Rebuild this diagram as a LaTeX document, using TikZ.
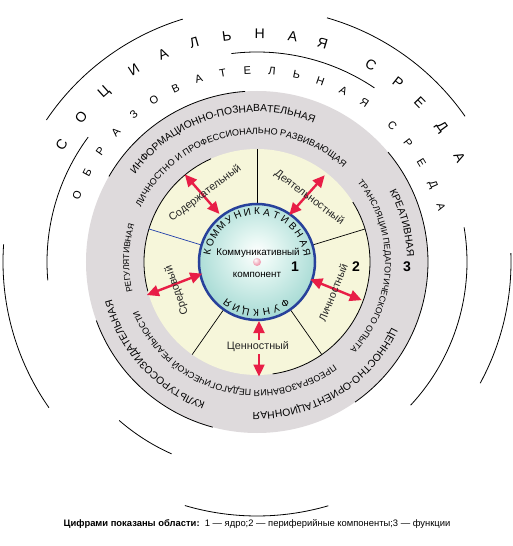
\documentclass[tikz,border=0pt]{standalone}
\usepackage{fontspec}
\setmainfont{Liberation Sans}
\usetikzlibrary{decorations.text,arrows.meta}
\definecolor{ringgray}{RGB}{222,218,220}
\definecolor{ringyellow}{RGB}{246,246,218}
\definecolor{sphteal}{RGB}{100,190,180}
\definecolor{sphlight}{RGB}{228,246,242}
\definecolor{sphedge}{RGB}{40,65,155}
\definecolor{arrred}{RGB}{232,30,70}
\definecolor{secblue}{RGB}{30,60,170}
\definecolor{pinkdot}{RGB}{232,110,140}
\pgfdeclareradialshading{sphereshade}{\pgfpoint{0bp}{4bp}}{color(0bp)=(white); color(8bp)=(sphlight); color(36bp)=(sphteal!75!white); color(50bp)=(sphteal); color(100bp)=(sphteal)}
\pgfdeclareradialshading{dotshade}{\pgfpoint{-10bp}{12bp}}{color(0bp)=(white); color(22bp)=(pinkdot!55!white); color(50bp)=(pinkdot); color(100bp)=(pinkdot)}
\newcommand\fOuter{\fontsize{10.3}{12}\selectfont}
\newcommand\fInnerA{\fontsize{9}{11}\selectfont}
\newcommand\fInnerB{\fontsize{8.6}{10}\selectfont}
\newcommand\fInnerC{\fontsize{8.8}{10}\selectfont}
\newcommand\fInnerD{\fontsize{8.5}{10}\selectfont}
\begin{document}
\begin{tikzpicture}[x=1pt,y=1pt,
  blackarc/.style={line width=0.8pt, black},
  secline/.style={line width=0.7pt, black},
  redarrow/.style={arrred, line width=2.4pt, {Triangle[length=12pt,width=11pt]}-{Triangle[length=12pt,width=11pt]}},
  biglet/.style={font=\fontsize{14}{16}\selectfont, inner sep=0pt},
  medlet/.style={font=\fontsize{11}{13}\selectfont, inner sep=0pt},
  sphlet/.style={font=\fontsize{10}{12}\selectfont, inner sep=0pt},
  seclabel/.style={font=\fontsize{10.8}{12}\selectfont, text=black!85, inner sep=0.5pt},
  numlabel/.style={font=\bfseries\fontsize{14}{16}\selectfont, inner sep=0pt},
  ringtext/.style={decorate, decoration={text along path, text align=center, text={#1}}}
]
\useasboundingbox (-257,-284) rectangle (256,262);

% rings
\fill[ringgray] (0,0) circle[radius=171pt];
\fill[ringyellow] (0,0) circle[radius=113pt];

% outer arcs r=254
\draw[blackarc] (107:254pt) arc[start angle=107, end angle=146, radius=254pt];
\draw[blackarc] (74:254pt) arc[start angle=74, end angle=35, radius=254pt];
\draw[blackarc] (176:254pt) arc[start angle=176, end angle=215, radius=254pt];
\draw[blackarc] (2:254pt) arc[start angle=2, end angle=-28.5, radius=254pt];
\draw[blackarc] (253.5:254pt) arc[start angle=253.5, end angle=286.3, radius=254pt];
% arcs r=210
\draw[blackarc] (97:210pt) arc[start angle=97, end angle=56, radius=210pt];
\draw[blackarc] (143.5:210pt) arc[start angle=143.5, end angle=185, radius=210pt];
\draw[blackarc] (229:210pt) arc[start angle=229, end angle=246, radius=210pt];
\draw[blackarc] (9.5:210pt) arc[start angle=9.5, end angle=-43, radius=210pt];
% gray ring edge
\draw[blackarc] (94:171pt) arc[start angle=94, end angle=150, radius=171pt];
\draw[blackarc] (40:171pt) arc[start angle=40, end angle=-55, radius=171pt];
\draw[blackarc] (200:171pt) arc[start angle=200, end angle=255, radius=171pt];
% yellow edge
\draw[blackarc] (114:113pt) arc[start angle=114, end angle=195, radius=113pt];
\draw[blackarc] (32:113pt) arc[start angle=32, end angle=-82, radius=113pt];

% sector lines
\draw[secline] (90:57pt) -- (90:113pt);
\draw[secline] (17:57pt) -- (17:113pt);
\draw[secline] (-55:57pt) -- (-55:113pt);
\draw[secline] (235:57pt) -- (235:113pt);
\draw[line width=0.7pt, secblue] (163:57pt) -- (163:113pt);

% core sphere
\node[circle, minimum size=116pt, inner sep=0pt, shading=sphereshade, draw=sphedge, line width=2.5pt] (core) at (0,0) {};
\shade[shading=dotshade] (0,0) circle[radius=4pt];
\node[font=\fontsize{9.8}{12}\selectfont, inner sep=0pt] (ct1) at (1,9) {Коммуникативный};
\node[font=\fontsize{9.8}{12}\selectfont, inner sep=0pt] (ct2) at (0,-13) {компонент};

% sphere ring letters
\foreach \ch [count=\i from 0] in {К,О,М,М,У,Н,И,К,А,Т,И,В,Н,А,Я}
  \node[sphlet, rotate={169-11.286*\i-90}] (kom\i) at ({169-11.286*\i}:50.5pt) {\ch};
\foreach \ch [count=\i from 0] in {Ф,У,Н,К,Ц,И,Я}
  \node[sphlet, rotate={-56-11.667*\i-90}] (fun\i) at ({-56-11.667*\i}:50.5pt) {\ch};

% arrows
\coordinate (a1i) at (128:61pt);   \coordinate (a1o) at (129.5:113.5pt);
\coordinate (a2i) at (55.5:57pt);  \coordinate (a2o) at (52:110pt);
\coordinate (a3i) at (-18:56pt);   \coordinate (a3o) at (-20:111.5pt);
\coordinate (a4i) at (2,-59);      \coordinate (a4o) at (2,-114.5);
\coordinate (a5i) at (192:56pt);   \coordinate (a5o) at (196.7:115pt);
\draw[redarrow] (a1i) -- (a1o);
\draw[redarrow] (a2i) -- (a2o);
\draw[redarrow] (a3i) -- (a3o);
\draw[redarrow] (a4i) -- (a4o);
\draw[redarrow] (a5i) -- (a5o);

% sector labels
\node[seclabel, rotate=37] (l1) at (127:86pt) {Содержательный};
\node[seclabel, rotate=-37] (l2) at (51:83pt) {Деятельностный};
\node[seclabel, rotate=68] (l3) at (-22:82pt) {Личностный};
\node[seclabel, fill=ringyellow, inner sep=1.5pt] (l4) at (1,-85) {Ценностный};
\node[seclabel, rotate=109.5] (l5) at (199.5:85pt) {Средовый};

% numbers
\node[numlabel] (n1) at (38,-5) {1};
\node[numlabel] (n2) at (99,-5) {2};
\node[numlabel] (n3) at (150,-5) {3};

% ring texts
\path[ringtext={|\fOuter|ИНФОРМАЦИОННО-ПОЗНАВАТЕЛЬНАЯ}] (176:150pt) arc[start angle=176, end angle=36, radius=150pt];
\path[ringtext={|\fInnerA|ЛИЧНОСТНО И ПРОФЕССИОНАЛЬНО РАЗВИВАЮЩАЯ}] (171.3:128pt) arc[start angle=171.3, end angle=31.3, radius=128pt];
\path[ringtext={|\fOuter|КРЕАТИВНАЯ}] (55:150pt) arc[start angle=55, end angle=-25, radius=150pt];
\path[ringtext={|\fInnerB|ТРАНСЛЯЦИИ ПЕДАГОГИЧЕСКОГО ОПЫТА}] (57.5:128pt) arc[start angle=57.5, end angle=-62.5, radius=128pt];
\path[ringtext={|\fOuter|ЦЕННОСТНО-ОРИЕНТАЦИОННАЯ}] (1.25:150pt) arc[start angle=1.25, end angle=-118.75, radius=150pt];
\path[ringtext={|\fInnerC|ПРЕОБРАЗОВАНИЯ ПЕДАГОГИЧЕСКОЙ РЕАЛЬНОСТИ}] (-35.5:128pt) arc[start angle=-35.5, end angle=-175.5, radius=128pt];
\path[ringtext={|\fOuter|КУЛЬТУРОСОЗИДАТЕЛЬНАЯ}] (-87.8:150pt) arc[start angle=-87.8, end angle=-187.8, radius=150pt];
\path[ringtext={|\fInnerD|РЕГУЛЯТИВНАЯ}] (218.3:128pt) arc[start angle=218.3, end angle=138.3, radius=128pt];

% letter-spaced environment names
\foreach \ch/\ang [count=\i] in {С/149,О/140.5,Ц/132,И/122.7,А/114.3,Л/106,Ь/97.6,Н/89.3,А/81,Я/73.3,С/60,Р/51.8,Е/44.4,Д/36.1,А/27.3}
  \node[biglet, rotate=\ang-90] (soc\i) at (\ang:228pt) {\ch};
\foreach \ch/\ang [count=\i] in {О/159.5,Б/152.1,Р/144.7,А/137.3,З/129.9,О/122.5,В/115.1,А/107.7,Т/100.3,Е/92.9,Л/85.5,Ь/78.1,Н/70.7,А/63.3,Я/55.9,С/45.2,Р/38.1,Е/31,Д/23.8,А/16.6}
  \node[medlet, rotate=\ang-90] (obr\i) at (\ang:192pt) {\ch};

% legend
\node[font=\fontsize{9.4}{11}\selectfont, inner sep=0pt] (legend) at (0,-262) {\textbf{Цифрами показаны области:}\ \ 1 — ядро;2 — периферийные компоненты;3 — функции};
\end{tikzpicture}
\end{document}
